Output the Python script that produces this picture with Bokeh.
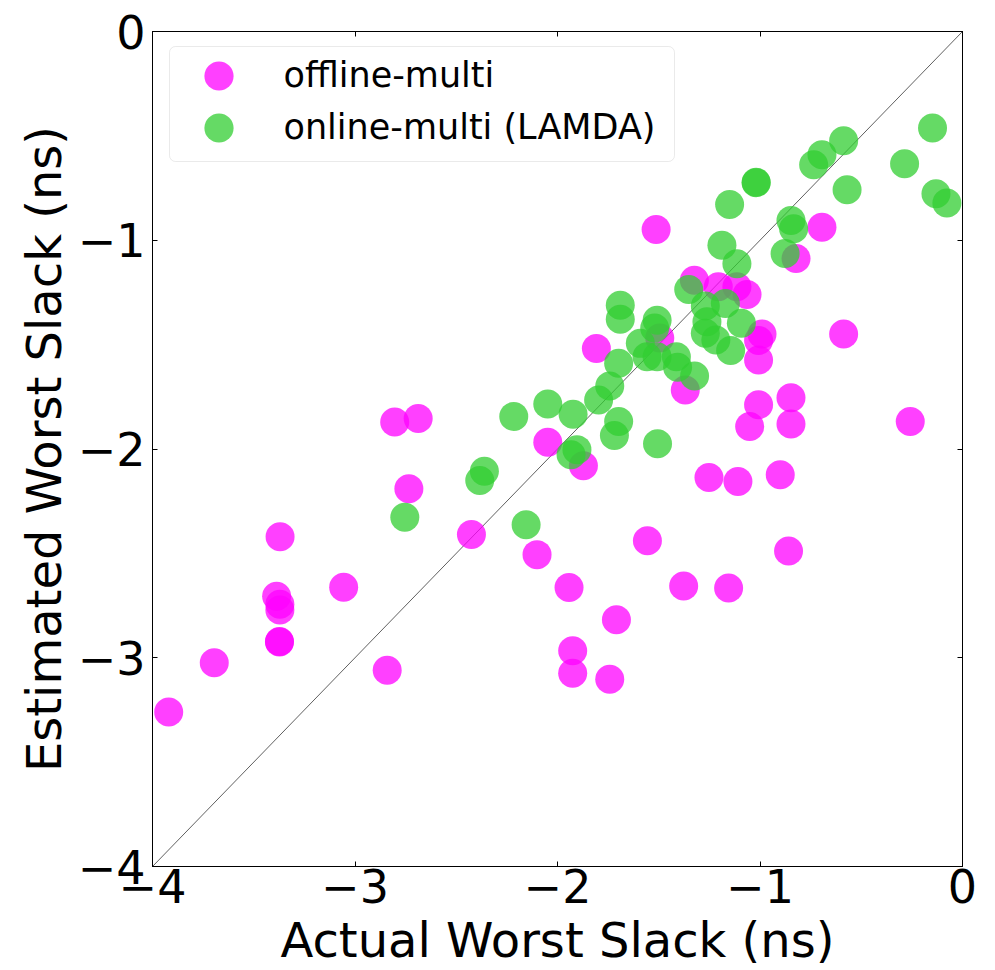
from bokeh.plotting import figure
from bokeh.models import (Range1d, FixedTicker, LinearAxis, Legend, LegendItem,
                          BoxAnnotation)
from bokeh.embed import file_html
from bokeh.resources import INLINE

# ---------------- data ----------------
off_x = [-3.92, -3.695, -3.37, -3.387, -3.371, -3.371, -3.373, -3.373, -3.056, -2.841,
         -2.734, -2.804, -2.688, -2.425, -2.101, -2.048, -1.943, -1.925, -1.925, -1.742,
         -1.709, -1.556, -1.377, -1.155, -0.859, -1.252, -1.109, -0.900, -1.872, -1.051,
         -0.847, -0.258, -1.513, -0.694, -0.822, -1.808, -1.324, -1.206, -1.114, -1.064,
         -0.990, -1.007, -1.007, -0.587, -1.369, -1.007, -0.847, -1.495]
off_y = [-3.26, -3.024, -2.42, -2.705, -2.744, -2.771, -2.922, -2.925, -2.662, -3.060,
         -2.191, -1.871, -1.854, -2.409, -2.506, -1.968, -2.664, -2.967, -3.074, -3.103,
         -2.818, -2.439, -2.656, -2.666, -2.489, -2.136, -2.156, -2.123, -2.080, -1.892,
         -1.880, -1.868, -0.949, -0.938, -1.088, -1.518, -1.192, -1.223, -1.223, -1.260,
         -1.449, -1.480, -1.574, -1.449, -1.717, -1.788, -1.754, -1.468]

on_x = [-2.754, -2.361, -2.384, -2.155, -2.216, -2.048, -1.923, -1.904, -1.933, -1.797,
        -1.742, -1.698, -1.719, -1.506, -1.690, -1.690, -1.508, -1.520, -1.591, -1.558,
        -1.508, -1.698, -1.413, -1.407, -1.323, -1.352, -1.270, -1.171, -1.092, -1.262,
        -1.270, -1.218, -1.145, -1.114, -1.188, -1.150, -1.019, -1.019, -0.847, -0.834,
        -0.876, -0.587, -0.694, -0.735, -0.570, -0.286, -0.148, -0.131, -0.077]
on_y = [-2.327, -2.107, -2.151, -2.363, -1.844, -1.784, -1.833, -2.003, -2.027, -1.765,
        -1.698, -1.868, -1.935, -1.975, -1.311, -1.379, -1.383, -1.420, -1.494, -1.558,
        -1.558, -1.589, -1.558, -1.608, -1.650, -1.236, -1.315, -1.303, -1.398, -1.391,
        -1.446, -1.478, -1.528, -1.112, -1.024, -0.829, -0.722, -0.724, -0.905, -0.945,
        -1.064, -0.523, -0.591, -0.638, -0.758, -0.634, -0.462, -0.777, -0.822]

diag = [-4, 0]
ticks = [-4, -3, -2, -1, 0]
tick_labels = ["\u22124", "\u22123", "\u22122", "\u22121", "0"]
series_names = ["offline-multi", "online-multi (LAMDA)"]
x_title = "Actual Worst Slack (ns)"
y_title = "Estimated Worst Slack (ns)"

FONT = "DejaVu Sans"
FW, FH = 810, 837

p = figure(width=995, height=970, output_backend="svg", toolbar_location=None,
           x_range=Range1d(-4, 0), y_range=Range1d(-4, 0),
           min_border_left=152, min_border_right=33, min_border_top=31, min_border_bottom=102)
p.background_fill_color = "white"
p.border_fill_color = "white"
p.outline_line_color = "black"
p.outline_line_width = 1
p.xgrid.visible = False
p.ygrid.visible = False

overrides = {t: l for t, l in zip(ticks, tick_labels)}

def style_axis(ax, show_labels):
    ax.ticker = FixedTicker(ticks=ticks)
    ax.major_label_overrides = overrides
    ax.major_tick_in = 5
    ax.major_tick_out = 0
    ax.minor_tick_line_color = None
    ax.axis_line_color = "black"
    ax.major_tick_line_color = "black"
    ax.major_label_text_font = FONT
    ax.major_label_text_color = "black"
    ax.major_label_text_line_height = 1.0
    if show_labels:
        ax.major_label_text_font_size = "46px"
    else:
        ax.major_label_text_font_size = "0px"
        ax.major_label_text_alpha = 0

style_axis(p.xaxis[0], True)
style_axis(p.yaxis[0], True)
p.xaxis.major_label_standoff = 2
p.yaxis.major_label_standoff = 7

p.xaxis.axis_label = x_title
p.yaxis.axis_label = y_title
for ax in (p.xaxis[0], p.yaxis[0]):
    ax.axis_label_text_font = FONT
    ax.axis_label_text_font_size = "48px"
    ax.axis_label_text_font_style = "normal"
    ax.axis_label_text_color = "black"
    ax.axis_label_text_line_height = 1.0
p.xaxis.axis_label_standoff = 6
p.yaxis.axis_label_standoff = 3

top_ax = LinearAxis()
right_ax = LinearAxis()
style_axis(top_ax, False)
style_axis(right_ax, False)
p.add_layout(top_ax, "above")
p.add_layout(right_ax, "right")

p.line(diag, diag, line_color="#606060", line_width=1)

r_off = p.scatter(off_x, off_y, size=29, fill_color="#ff00ff", fill_alpha=0.75, line_color=None)
r_on = p.scatter(on_x, on_y, size=29, fill_color="#32cd32", fill_alpha=0.75, line_color=None)

# legend frame (frame-relative screen units, y measured from frame bottom)
box = BoxAnnotation(left=17, right=522, top=FH - 17, bottom=FH - 132,
                    left_units="screen", right_units="screen",
                    top_units="screen", bottom_units="screen",
                    fill_color="white", fill_alpha=1.0,
                    line_color="#bbbbbb", line_width=1, border_radius=6)
p.add_layout(box)

GL = 73  # legend glyph box -> marker diameter 0.4*73 ~ 29 px
legend_pos = [(29.5, FH - 9.5 - GL), (29.5, FH - 61.5 - GL)]
for name, rend, pos in zip(series_names, [r_off, r_on], legend_pos):
    lg = Legend(items=[LegendItem(label=name, renderers=[rend])], location=pos)
    lg.margin = 0
    lg.padding = 0
    lg.glyph_width = GL
    lg.glyph_height = GL
    lg.label_height = GL
    lg.label_standoff = 29
    lg.label_text_font = FONT
    lg.label_text_font_size = "35px"
    lg.label_text_color = "black"
    lg.border_line_color = None
    lg.background_fill_alpha = 0
    p.add_layout(lg)

open("out.html", "w").write(file_html(p, INLINE))
